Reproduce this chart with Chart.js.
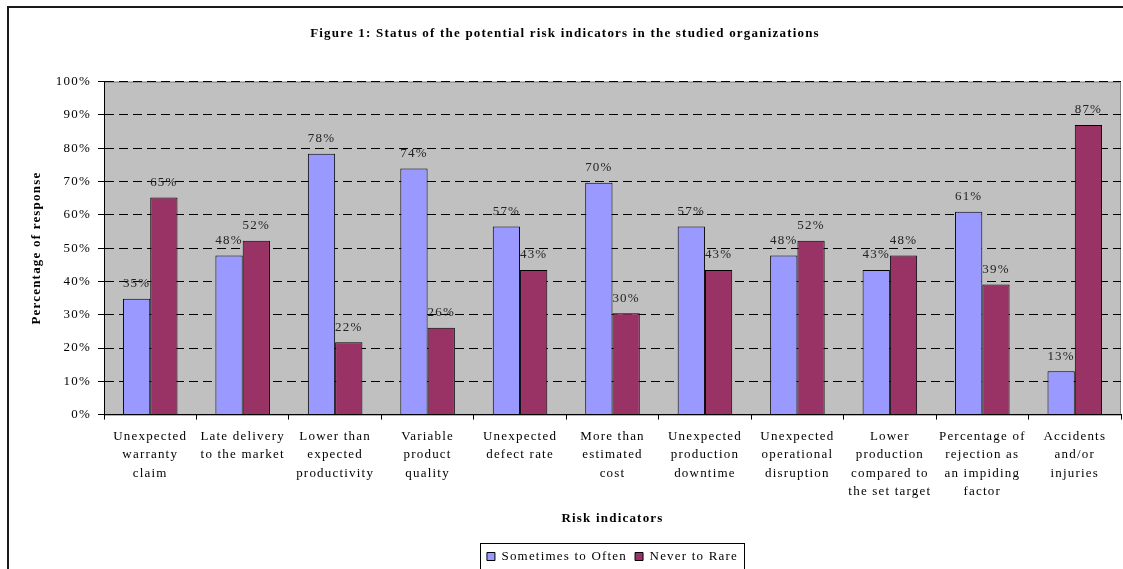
<!DOCTYPE html>
<html>
<head>
<meta charset="utf-8">
<script src="https://cdn.jsdelivr.net/npm/chart.js@4"></script>
<style>
  html, body { margin: 0; padding: 0; background: #fff; }
  #wrap { width: 1123px; height: 569px; position: relative; }
</style>
</head>
<body>
<div id="wrap"><canvas id="chart"></canvas></div>
<script>
/* ===== DATA ===== */
const categories = [
  ["Unexpected", "warranty", "claim"],
  ["Late delivery", "to the market"],
  ["Lower than", "expected", "productivity"],
  ["Variable", "product", "quality"],
  ["Unexpected", "defect rate"],
  ["More than", "estimated", "cost"],
  ["Unexpected", "production", "downtime"],
  ["Unexpected", "operational", "disruption"],
  ["Lower", "production", "compared to", "the set target"],
  ["Percentage of", "rejection as", "an impiding", "factor"],
  ["Accidents", "and/or", "injuries"]
];
const sometimesToOften = [34.8, 47.8, 78.3, 73.9, 56.5, 69.6, 56.5, 47.8, 43.4, 60.9, 13.0];
const neverToRare      = [65.2, 52.2, 21.7, 26.1, 43.4, 30.4, 43.4, 52.2, 47.8, 39.1, 87.0];
const seriesNames = ["Sometimes to Often", "Never to Rare"];

const SERIF = "'Liberation Serif', 'Times New Roman', serif";
const SPACING = "1.2px";

/* ===== PLUGIN: wider letter spacing like the original export ===== */
const letterSpacing = {
  id: "letterSpacing",
  beforeUpdate(chart) { chart.ctx.letterSpacing = SPACING; },
  beforeDraw(chart) { chart.ctx.letterSpacing = SPACING; }
};

/* ===== PLUGIN: background, frame, value labels, legend box ===== */
const chartDecor = {
  id: "chartDecor",
  beforeDraw(chart) {
    const { ctx, chartArea: a } = chart;
    ctx.save();
    ctx.fillStyle = "#fff";
    ctx.fillRect(0, 0, chart.width, chart.height);
    ctx.fillStyle = "#c0c0c0";
    ctx.fillRect(a.left, a.top, a.right - a.left, a.bottom - a.top);
    ctx.strokeStyle = "#808080";
    ctx.lineWidth = 1;
    ctx.strokeRect(a.left + 0.5, a.top + 0.5, a.right - a.left - 1, a.bottom - a.top);
    // outer frame (cropped on right and bottom)
    ctx.strokeStyle = "#1a1a1a";
    ctx.lineWidth = 2;
    ctx.beginPath();
    ctx.moveTo(8, chart.height + 2);
    ctx.lineTo(8, 7);
    ctx.lineTo(chart.width + 2, 7);
    ctx.stroke();
    ctx.restore();
  },
  afterDatasetsDraw(chart) {
    const { ctx } = chart;
    ctx.save();
    ctx.font = "13px " + SERIF;
    ctx.fillStyle = "#222";
    ctx.textAlign = "center";
    ctx.textBaseline = "middle";
    chart.data.datasets.forEach((ds, i) => {
      chart.getDatasetMeta(i).data.forEach((bar, j) => {
        ctx.fillText(Math.round(ds.data[j]) + "%", bar.x, bar.y - 15);
      });
    });
    ctx.restore();
  },
  afterDraw(chart) {
    const boxes = chart.legend.legendHitBoxes;
    if (!boxes || !boxes.length) return;
    const left = Math.min(...boxes.map(b => b.left)) - 7;
    const right = Math.max(...boxes.map(b => b.left + b.width)) + 6;
    const top = boxes[0].top - 7;
    const { ctx } = chart;
    ctx.save();
    ctx.strokeStyle = "#000";
    ctx.lineWidth = 1;
    ctx.strokeRect(Math.round(left) + 0.5, Math.round(top) + 0.5, Math.round(right - left), chart.height - top + 5);
    ctx.restore();
  }
};

/* ===== CHART ===== */
new Chart(document.getElementById("chart"), {
  type: "bar",
  data: {
    labels: categories,
    datasets: [
      {
        label: seriesNames[0],
        data: sometimesToOften,
        backgroundColor: "#9999ff",
        borderColor: "#000",
        borderWidth: 1,
        categoryPercentage: 0.59,
        barPercentage: 1.0
      },
      {
        label: seriesNames[1],
        data: neverToRare,
        backgroundColor: "#993366",
        borderColor: "#000",
        borderWidth: 1,
        categoryPercentage: 0.59,
        barPercentage: 1.0
      }
    ]
  },
  options: {
    responsive: true,
    maintainAspectRatio: false,
    animation: false,
    layout: { padding: { left: 9, right: 2, top: 0, bottom: -4 } },
    plugins: {
      tooltip: { enabled: false },
      title: {
        display: true,
        text: "Figure 1: Status of the potential risk indicators in the studied organizations",
        color: "#000",
        font: { family: SERIF, size: 13, weight: "bold" },
        padding: { top: 26, bottom: 40 }
      },
      legend: {
        position: "bottom",
        fullSize: false,
        labels: {
          color: "#000",
          font: { family: SERIF, size: 13 },
          boxWidth: 8,
          boxHeight: 8,
          padding: 8
        }
      }
    },
    scales: {
      x: {
        grid: { drawOnChartArea: false, offset: true, tickLength: 5, tickColor: "#000" },
        border: { color: "#000", width: 1 },
        ticks: {
          color: "#000",
          font: { family: SERIF, size: 13, lineHeight: 1.4 },
          maxRotation: 0,
          autoSkip: false,
          padding: 8
        },
        title: {
          display: true,
          text: "Risk indicators",
          color: "#000",
          font: { family: SERIF, size: 13, weight: "bold" },
          padding: { top: 2, bottom: 16 }
        }
      },
      y: {
        min: 0,
        max: 100,
        afterFit: s => { s.width = 95; },
        ticks: {
          stepSize: 10,
          color: "#000",
          font: { family: SERIF, size: 13 },
          padding: 7,
          callback: v => v + "%"
        },
        grid: { color: "#000", lineWidth: 1, tickLength: 6, tickColor: "#000", tickBorderDash: [] },
        border: { color: "#000", width: 1, dash: [9, 5] },
        title: {
          display: true,
          text: "Percentage of response",
          color: "#000",
          font: { family: SERIF, size: 13, weight: "bold" },
          padding: { top: 20, bottom: 15 }
        }
      }
    }
  },
  plugins: [letterSpacing, chartDecor]
});
</script>
</body>
</html>
